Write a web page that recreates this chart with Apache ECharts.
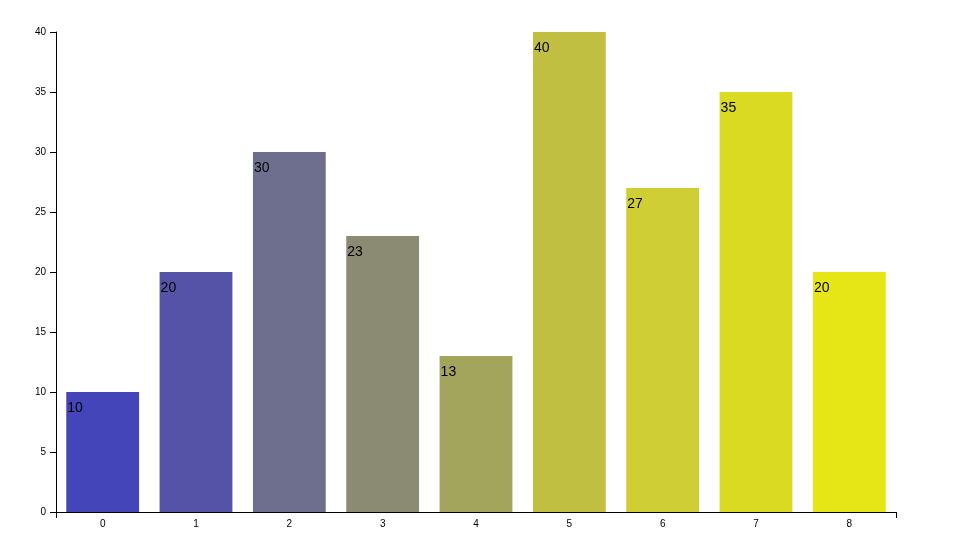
<!DOCTYPE html>
<html>
<head>
<meta charset="utf-8">
<title>Bar chart</title>
<script src="https://cdn.jsdelivr.net/npm/echarts@6/dist/echarts.min.js"></script>
<style>
  html, body { margin: 0; padding: 0; background: #fff; }
  #chart { width: 962px; height: 555px; }
</style>
</head>
<body>
<div id="chart"></div>
<script>
const categories = ['0', '1', '2', '3', '4', '5', '6', '7', '8'];
const values = [10, 20, 30, 23, 13, 40, 27, 35, 20];
const barColors = ['#4345b8', '#5453a8', '#6e6f8e', '#8b8a73', '#a4a55d', '#c0bf42', '#cfce35', '#dbda23', '#e6e617'];
const yTicks = { min: 0, max: 40, interval: 5 };

const chart = echarts.init(document.getElementById('chart'));

const axisFont = { fontSize: 10, color: '#000', fontFamily: 'Liberation Sans' };

const option = {
  animation: false,
  grid: { left: 56, right: 66, top: 32, bottom: 43, containLabel: false },
  xAxis: [
    {
      type: 'category',
      data: categories,
      axisLine: { lineStyle: { color: '#000', width: 1 } },
      axisTick: { alignWithLabel: true, length: 6, lineStyle: { color: '#000' } },
      axisLabel: Object.assign({ margin: 7 }, axisFont),
      splitLine: { show: false }
    },
    {
      // end ticks of the x axis
      type: 'value',
      position: 'bottom',
      min: 0,
      max: 1,
      interval: 1,
      axisLine: { show: false },
      axisTick: { show: true, length: 6, lineStyle: { color: '#000' } },
      axisLabel: { show: false },
      splitLine: { show: false }
    }
  ],
  yAxis: {
    type: 'value',
    min: yTicks.min,
    max: yTicks.max,
    interval: yTicks.interval,
    axisLine: { show: true, lineStyle: { color: '#000', width: 1 } },
    axisTick: { show: true, length: 6, lineStyle: { color: '#000' } },
    axisLabel: Object.assign({ margin: 10 }, axisFont),
    splitLine: { show: false }
  },
  series: [
    {
      type: 'bar',
      xAxisIndex: 0,
      barCategoryGap: '22%',
      data: values.map((v, i) => ({ value: v, itemStyle: { color: barColors[i] } })),
      label: {
        show: true,
        position: [1, 9],
        align: 'left',
        verticalAlign: 'top',
        fontSize: 14,
        color: '#000',
        fontFamily: 'Liberation Sans'
      }
    }
  ]
};

chart.setOption(option);
</script>
</body>
</html>
